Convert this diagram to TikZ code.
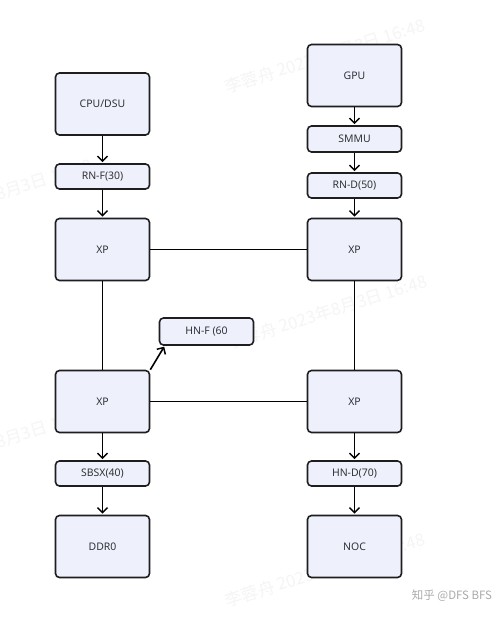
\documentclass[tikz,border=0pt]{standalone}
\usepackage{fontspec}
\setmainfont{Noto Sans}
\newfontfamily\cjk{Noto Sans CJK SC}
\usetikzlibrary{arrows.meta}
\definecolor{boxfill}{RGB}{238,241,251}
\definecolor{txt}{RGB}{50,50,55}
\definecolor{edge}{RGB}{30,30,30}
\definecolor{wm}{RGB}{245,245,246}
\definecolor{zh}{RGB}{170,170,170}
\begin{document}
\begin{tikzpicture}[x=1bp,y=-1bp,
  box/.style={draw=edge, line width=1.6bp, rounded corners=4bp, fill=boxfill, text=txt,
    inner sep=0pt, minimum width=94bp, font=\fontsize{10.5}{12}\selectfont},
  big/.style={box, minimum height=62bp},
  small/.style={box, minimum height=25bp},
  conn/.style={draw=black, line width=1.6bp},
  arr/.style={conn, -{Straight Barb[length=5bp,width=10bp,line width=1.5bp]}, shorten >=1bp},
  wmark/.style={text=wm, font=\cjk\fontsize{17}{20}\selectfont, rotate=17.5, inner sep=0pt}]
\useasboundingbox (0,0) rectangle (501,617);
\fill[white] (0,0) rectangle (501,617);
\begin{scope}
\clip (0,0) rectangle (501,617);
\node[wmark] (w1) at (325,56) {李蓉舟 2023年8月3日 16:48};
\node[wmark] (w2) at (327,312) {李蓉舟 2023年8月3日 16:48};
\node[wmark] (w3) at (325,570) {李蓉舟 2023年8月3日 16:48};
\node[wmark] (w4) at (-8,196) {李蓉舟 2023年8月3日 16:48};
\node[wmark] (w5) at (-8,444) {李蓉舟 2023年8月3日 16:48};
\end{scope}
% left column
\node[big] (cpu) at (102.5,104) {CPU/DSU};
\node[small] (rnf) at (102.5,176.5) {RN-F(30)};
\node[big] (xptl) at (102.5,249.5) {XP};
\node[big] (xpbl) at (102.5,401.5) {XP};
\node[small] (sbsx) at (102.5,473.5) {SBSX(40)};
\node[big] (ddr) at (102.5,546.5) {DDR0};
% right column
\node[big] (gpu) at (354.5,75.5) {GPU};
\node[small, minimum height=26bp] (smmu) at (354.5,139) {SMMU};
\node[small] (rnd) at (354.5,185.5) {RN-D(50)};
\node[big] (xptr) at (354.5,249.5) {XP};
\node[big] (xpbr) at (354.5,401.5) {XP};
\node[small] (hnd) at (354.5,473.5) {HN-D(70)};
\node[big] (noc) at (354.5,546.5) {NOC};
% middle
\node[small, minimum height=27bp] (hnf) at (206.5,331.5) {HN-F (60};
% arrows
\draw[arr] (cpu) -- (rnf);
\draw[arr] (rnf) -- (xptl);
\draw[arr] (gpu) -- (smmu);
\draw[arr] (smmu) -- (rnd);
\draw[arr] (rnd) -- (xptr);
\draw[arr] (xpbl) -- (sbsx);
\draw[arr] (sbsx) -- (ddr);
\draw[arr] (xpbr) -- (hnd);
\draw[arr] (hnd) -- (noc);
\draw[arr] (xpbl.north east) -- ([xshift=6bp]hnf.south west);
% links
\draw[conn] (xptl) -- (xptr);
\draw[conn] (xpbl) -- (xpbr);
\draw[conn] (xptl) -- (xpbl);
\draw[conn] (xptr) -- (xpbr);
\node[text=zh, font=\cjk\fontsize{11.5}{13}\selectfont, inner sep=0pt] (zhihu) at (452,596) {知乎 @DFS BFS};
\end{tikzpicture}
\end{document}
